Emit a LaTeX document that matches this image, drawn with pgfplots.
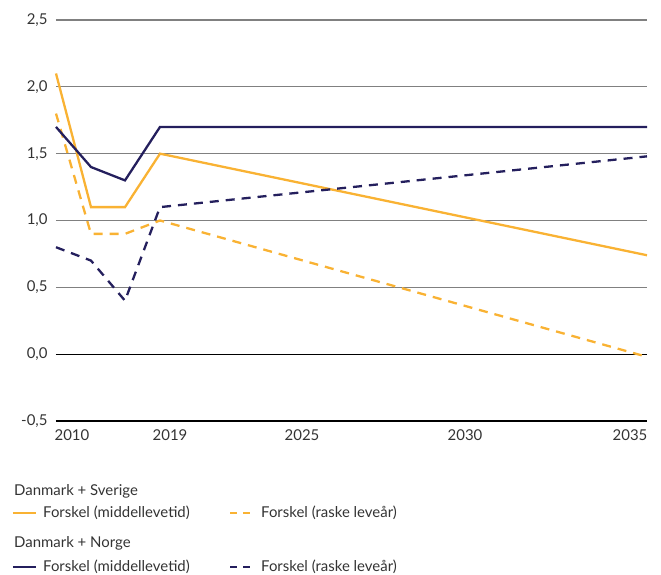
\documentclass[border=0pt]{standalone}
\usepackage{pgfplots}
\pgfplotsset{compat=1.18}
\usepackage{fontspec}
\setmainfont{Lato}
\definecolor{gul}{HTML}{F9B233}
\definecolor{navy}{HTML}{241F5D}
\definecolor{gridgray}{HTML}{808080}
\definecolor{txt}{HTML}{333333}

% x positions: early observations, then the projection to 2035
\pgfplotstableread{
x     sms    srl    nms   nrl
56    2.10   1.80   1.70  0.80
91    1.10   0.90   1.40  0.70
125   1.10   0.90   1.30  0.40
160   1.50   1.00   1.70  1.10
647   0.74  -0.02   1.70  1.48
}\forskel

\begin{document}
\begin{tikzpicture}[font=\fontsize{15}{18}\selectfont, text=txt]
\useasboundingbox (-56bp,-154bp) rectangle (605bp,421bp);
\begin{axis}[
  at={(0,0)}, anchor=south west,
  scale only axis,
  width=591bp, height=401bp,
  xmin=56, xmax=647,
  ymin=-0.5, ymax=2.5,
  ytick={-0.5,0,0.5,1,1.5,2,2.5},
  xtick={72,170,302,465,630},
  xticklabels={2010,2019,2025,2030,2035},
  axis line style={draw=none},
  major tick length=0pt,
  ymajorgrids,
  grid style={gridgray, line width=1.1pt},
  /pgf/number format/.cd, assume math mode=true, use comma, fixed, fixed zerofill, precision=1,
  /pgfplots/.cd,
  yticklabel style={anchor=east, xshift=-5bp, text=txt},
  xticklabel style={anchor=center, yshift=-14bp, text=txt},
  clip=false,
]
\draw[black, line width=1.1pt] (axis cs:56,0) -- (axis cs:647,0);
\draw[black, line width=1.1pt] (axis cs:56,-0.5) -- (axis cs:647,-0.5);
\addplot[gul, line width=2.3pt] table[x=x, y=sms] {\forskel};
\addplot[gul, line width=2.3pt, dash pattern=on 9bp off 7bp] table[x=x, y=srl] {\forskel};
\addplot[navy, line width=2.3pt] table[x=x, y=nms] {\forskel};
\addplot[navy, line width=2.3pt, dash pattern=on 9bp off 7bp] table[x=x, y=nrl] {\forskel};
\end{axis}

% legend below the plot
\node[anchor=west, inner sep=0pt] at (-42bp,-70bp) {Danmark + Sverige};
\draw[gul, line width=2.3pt] (-43bp,-92bp) -- (-20bp,-92bp);
\node[anchor=west, inner sep=0pt] at (-13bp,-92bp) {Forskel (middellevetid)};
\draw[gul, line width=2.3pt, dash pattern=on 7bp off 6bp] (174bp,-92bp) -- (196bp,-92bp);
\node[anchor=west, inner sep=0pt] at (205bp,-92bp) {Forskel (raske leveår)};

\node[anchor=west, inner sep=0pt] at (-42bp,-122bp) {Danmark + Norge};
\draw[navy, line width=2.3pt] (-43bp,-146bp) -- (-20bp,-146bp);
\node[anchor=west, inner sep=0pt] at (-13bp,-146bp) {Forskel (middellevetid)};
\draw[navy, line width=2.3pt, dash pattern=on 7bp off 6bp] (174bp,-146bp) -- (196bp,-146bp);
\node[anchor=west, inner sep=0pt] at (205bp,-146bp) {Forskel (raske leveår)};
\end{tikzpicture}
\end{document}
